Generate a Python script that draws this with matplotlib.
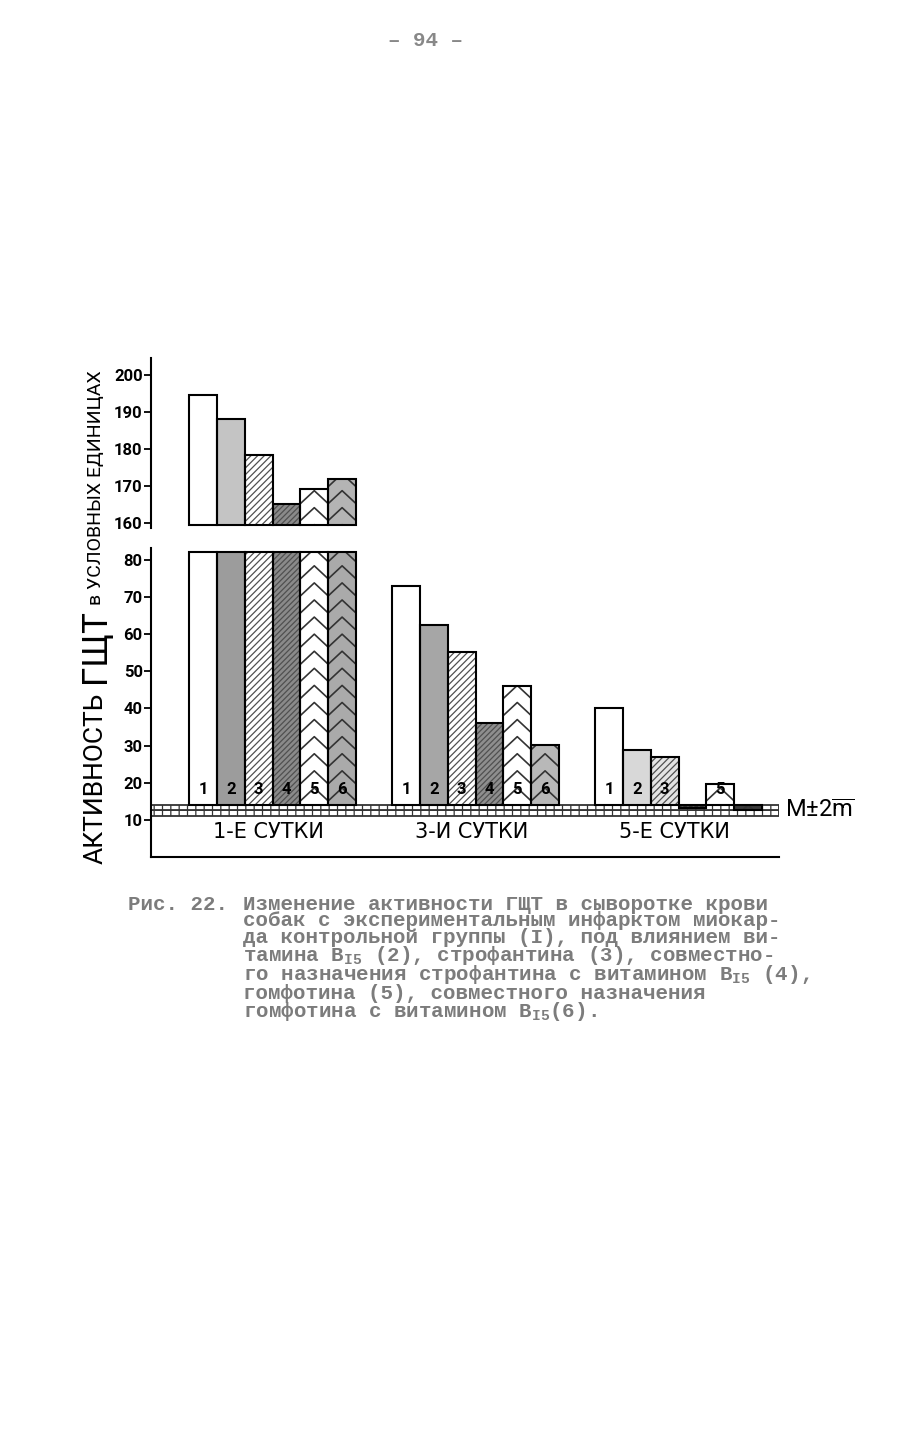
import numpy as np
import matplotlib
matplotlib.use("Agg")
import matplotlib.pyplot as plt
from matplotlib import font_manager
from matplotlib.transforms import blended_transform_factory

# --- data ---
days = ["1-Е СУТКИ", "3-И СУТКИ", "5-Е СУТКИ"]
series = ["1", "2", "3", "4", "5", "6"]
day1 = [194.5, 188.2, 178.3, 165.2, 169.2, 171.9]
day3 = [73.1, 62.5, 55.3, 36.2, 46.0, 30.2]
day5 = [40.0, 28.8, 27.0, 13.3, 19.7, 12.7]
band_lo, band_hi = 11.1, 14.0          # M +- 2m
upper_ticks = [160, 170, 180, 190, 200]
lower_ticks = [10, 20, 30, 40, 50, 60, 70, 80]
caption = [
    "Изменение активности ГЩТ в сыворотке крови",
    "собак с экспериментальным инфарктом миокар-",
    "да контрольной группы (I), под влиянием ви-",
    r"тамина B$_{\mathbf{I5}}$ (2), строфантина (3), совместно-",
    r"го назначения строфантина с витамином B$_{\mathbf{I5}}$ (4),",
    "гомфотина (5), совместного назначения",
    r"гомфотина с витамином B$_{\mathbf{I5}}$(6).",
]

values = np.array([day1, day3, day5])

names = {f.name for f in font_manager.fontManager.ttflist}
narrow = "Roboto" if "Roboto" in names else "DejaVu Sans"
mono = "Liberation Mono" if "Liberation Mono" in names else "DejaVu Sans Mono"

plt.rcParams["hatch.linewidth"] = 0.9
plt.rcParams["mathtext.fontset"] = "custom"
plt.rcParams["mathtext.rm"] = narrow
plt.rcParams["mathtext.bf"] = mono + ":bold"

# styles per group / series
faces = [["white", "#9c9c9c", "white", "#8a8a8a", "white", "#aaaaaa"],
         ["white", "#a6a6a6", "white", "#8e8e8e", "white", "#b8b8b8"],
         ["white", "#d8d8d8", "#e4e4e4", "#2e2e2e", "white", "#3a3a3a"]]
faces_up = ["white", "#c4c4c4", "white", "#8a8a8a", "white", "#b4b4b4"]
hatches = ["", "", "/////", "//////", "", ""]
chevron = [False, False, False, False, True, True]
w = 0.137


def fx(x):
    return x / 924


def fy(y):
    return 1 - y / 1435


fig = plt.figure(figsize=(9.24, 14.35), dpi=100)
ax_up = fig.add_axes([fx(151), fy(528), fx(779) - fx(151), fy(358) - fy(528)])
ax_lo = fig.add_axes([fx(151), fy(857), fx(779) - fx(151), fy(548) - fy(857)])


def draw_bar(ax, x, base, top, face, hatch, chev):
    rect = ax.bar(x, top - base, bottom=base, width=w, color=face,
                  edgecolor="black", linewidth=0, zorder=2)[0]
    if hatch:
        ax.bar(x, top - base, bottom=base, width=w, fill=False, hatch=hatch,
               edgecolor="#505050", linewidth=0, zorder=2.5)
    if chev:
        y0 = base - 3.5
        while y0 < top:
            ln, = ax.plot([x - w / 2, x, x + w / 2], [y0, y0 + 3.5, y0],
                          color="#333333", lw=1.2, zorder=2.6)
            ln.set_clip_path(rect)
            y0 += 4.6
    ax.bar(x, top - base, bottom=base, width=w, fill=False,
           edgecolor="black", linewidth=1.5, zorder=3)


for g in range(3):
    for i in range(6):
        x = g + (i - 2.5) * w
        v = values[g, i]
        if g == 0:
            draw_bar(ax_up, x, 159.5, v, faces_up[i], hatches[i], chevron[i])
            top = min(v, 82)
        else:
            top = v
        draw_bar(ax_lo, x, band_hi, top, faces[g][i], hatches[i], chevron[i])
        if v > 17:
            ax_lo.text(x, 18.2, series[i], ha="center", va="center",
                       fontsize=12, fontweight="bold", family=narrow, zorder=4)
    ax_lo.text(g - 0.02, 6.8, days[g], ha="center", va="center", fontsize=15,
               family="DejaVu Sans")

# M +- 2m band
mid = (band_lo + band_hi) / 2
for lo, hi in [(band_lo, mid), (mid, band_hi)]:
    ax_lo.axhspan(lo, hi, facecolor="white", edgecolor="#333333",
                  hatch="||", linewidth=1.3, zorder=1.5)
tr = blended_transform_factory(ax_lo.transAxes, ax_lo.transData)
ax_lo.text(1.01, mid, r"M±2$\overline{\mathrm{m}}$", transform=tr, ha="left",
           va="center", fontsize=17, family=narrow)

for ax, lim, ticks in [(ax_up, (158.6, 204.6), upper_ticks),
                       (ax_lo, (0, 83.2), lower_ticks)]:
    ax.set_xlim(-0.599, 2.495)
    ax.set_ylim(*lim)
    ax.set_yticks(ticks)
    ax.set_xticks([])
    ax.tick_params(axis="y", direction="out", length=5, width=1.3, pad=1,
                   labelsize=12)
    for lbl in ax.get_yticklabels():
        lbl.set_fontfamily(narrow)
        lbl.set_fontweight("bold")
    for s in ["top", "right"]:
        ax.spines[s].set_visible(False)
    for s in ["left", "bottom"]:
        ax.spines[s].set_linewidth(1.5)
    ax.patch.set_alpha(0)
ax_up.spines["bottom"].set_visible(False)

# vertical axis title (three hand-lettered pieces)
fig.text(fx(96), fy(778), "АКТИВНОСТЬ", rotation=90, ha="center", va="center",
         fontsize=19, family=narrow)
fig.text(fx(96), fy(646), "ГЩТ", rotation=90, ha="center", va="center",
         fontsize=25, family=narrow)
fig.text(fx(96), fy(488), "в УСЛОВНЫХ ЕДИНИЦАХ", rotation=90, ha="center",
         va="center", fontsize=14, family=narrow)

# page number and caption
fig.text(fx(425), fy(40), "– 94 –", ha="center", va="center", fontsize=15,
         fontweight="bold", family=mono, color="#888888")
fig.text(fx(128), fy(904), "Рис. 22.", ha="left", va="center", fontsize=15,
         fontweight="bold", family=mono, color="#7c7c7c")
fig.text(fx(243), fy(895), "\n".join(caption), ha="left", va="top",
         fontsize=15, fontweight="bold", family=mono, color="#7c7c7c",
         linespacing=0.82)

fig.savefig("out.png", dpi=100)
